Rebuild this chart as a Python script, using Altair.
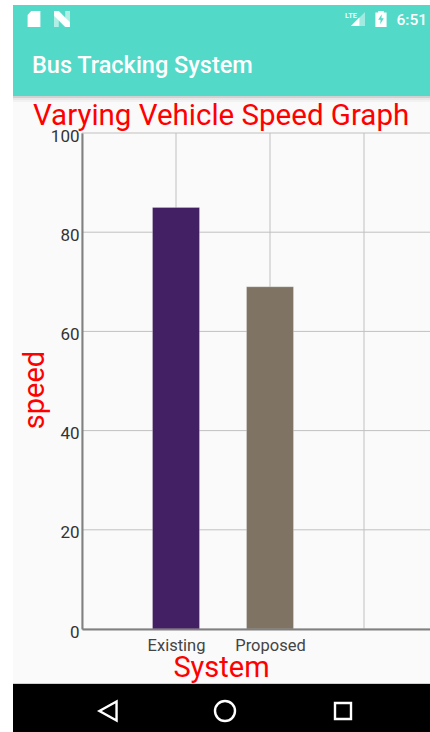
import altair as alt
import pandas as pd

# Bars: system name, position on the category axis, speed and fill colour
systems = ["Existing", "Proposed"]
positions = [1, 2]
speeds = [85, 69]
bar_colors = ["#431f63", "#7f7463"]

y_ticks = [0, 20, 40, 60, 80, 100]
x_ticks = [0, 1, 2, 3]

PLOT_W, PLOT_H = 348, 496
LEFT, TOP = 82, 133
STEP = 94
GRID = "#c0c0c0"
RED = "#ff0000"

bars = pd.DataFrame({"system": systems, "pos": positions, "speed": speeds})
one = pd.DataFrame({"k": [0]})

label_expr = "+".join(
    f"(datum.value == {p} ? '{s}' : '')" for p, s in zip(positions, systems)
)


def rect(x0, y0, x1, y1, color, opacity=1.0):
    """Screen-space rectangle; coordinates are measured from the page corner."""
    return alt.Chart(one).mark_rect(color=color, opacity=opacity).encode(
        x=alt.value(x0 - LEFT), x2=alt.value(x1 - LEFT),
        y=alt.value(y0 - TOP), y2=alt.value(y1 - TOP),
    )


def label(text, x, y, size, weight=400, align="left", color="white", angle=0):
    return alt.Chart(one).mark_text(
        text=text, color=color, font="Roboto", fontSize=size,
        fontWeight=weight, align=align, baseline="alphabetic", angle=angle,
    ).encode(x=alt.value(x - LEFT), y=alt.value(y - TOP))


def icon(path, x, y, size, fill=None, stroke=None, width=2.0, opacity=1.0):
    style = dict(shape=path, size=size, opacity=opacity)
    if fill:
        style.update(filled=True, fill=fill, strokeWidth=0)
    else:
        style.update(filled=False, stroke=stroke, strokeWidth=width)
    return alt.Chart(one).mark_point(**style).encode(
        x=alt.value(x - LEFT), y=alt.value(y - TOP)
    )


SD_CARD = "M-0.35,-1 L0.8,-1 L0.8,1 L-0.8,1 L-0.8,-0.5 Z"
N_MARK = "M-1,-1 L-0.4,-1 L1,0.4 L1,1 L0.4,1 L-1,-0.4 Z"
N_LEFT = "M-1,-1 L-0.4,-0.5 L-0.4,1 L-1,1 Z"
N_RIGHT = "M0.4,-1 L1,-1 L1,1 L0.4,0.5 Z"
SIGNAL_FULL = "M1,-1 L1,1 L-1,1 Z"
SIGNAL_PART = "M0.2,-0.2 L0.2,1 L-1,1 Z"
BATTERY = "M-0.35,-1 L0.35,-1 L0.35,-0.8 L0.7,-0.8 L0.7,1 L-0.7,1 L-0.7,-0.8 L-0.35,-0.8 Z"
BOLT = "M0.1,-0.6 L-0.35,0.1 L-0.05,0.1 L-0.1,0.65 L0.35,-0.1 L0.05,-0.1 Z"
BACK = "M0.9,-1 L0.9,1 L-0.9,0 Z"
HOME = "M1,0 A1,1 0 1 1 -1,0 A1,1 0 1 1 1,0 Z"
RECENT = "M-1,-1 L1,-1 L1,1 L-1,1 Z"

TEAL = "#52d9c8"

# Device frame drawn behind the chart
frame = [
    rect(13, 5, 430, 684, "#fafafa"),
    rect(13, 96, 430, 98, "#000000", 0.16),
    rect(13, 98, 430, 100, "#000000", 0.07),
    rect(13, 100, 430, 102, "#000000", 0.03),
    rect(13, 5, 430, 96, TEAL),
    rect(13, 683, 430, 684, "#d0d0d0"),
    rect(13, 684, 430, 732, "#000000"),
    label("Bus Tracking System", 32, 73, 23.5, 500),
    label("6:51", 427, 25, 15.5, 500, "right"),
    icon(SD_CARD, 34, 19, 256, fill="white"),
    icon(N_LEFT, 62, 19, 256, fill="white", opacity=0.55),
    icon(N_RIGHT, 62, 19, 256, fill="white", opacity=0.55),
    icon(N_MARK, 62, 19, 256, fill="white"),
    icon(SIGNAL_FULL, 358, 19, 196, fill="white", opacity=0.45),
    icon(SIGNAL_PART, 358, 19, 196, fill="white"),
    label("LTE", 345, 18, 7.5, 500),
    icon(BATTERY, 381, 19, 256, fill="white"),
    icon(BOLT, 381, 19, 256, fill=TEAL),
    icon(BACK, 108, 711, 361, stroke="white", width=2.4),
    icon(HOME, 225, 711, 400, stroke="white", width=2.4),
    icon(RECENT, 343, 711, 256, stroke="white", width=2.4),
]

x_scale = alt.Scale(domain=[0, PLOT_W / STEP], nice=False, zero=False, padding=0)
y_scale = alt.Scale(domain=[0, 100], nice=False)

x_axis = alt.Axis(
    values=x_ticks,
    labelExpr=label_expr,
    title=None,
    labelFont="Roboto",
    labelFontSize=16.5,
    labelColor="#444444",
    labelPadding=8,
    labelFlush=False,
    labelOverlap=False,
    grid=False,
    ticks=False,
    domainColor="#808080",
    domainWidth=2,
    zindex=1,
)
y_axis = alt.Axis(
    values=y_ticks,
    title=None,
    labelFont="Roboto",
    labelFontSize=17,
    labelColor="#333333",
    labelPadding=3,
    labelOffset=3,
    grid=False,
    ticks=False,
    domainColor="#808080",
    domainWidth=2,
    zindex=1,
)

# Grid lines sit above the frame but under the bars
x_grid = alt.Chart(pd.DataFrame({"pos": x_ticks})).mark_rule(color=GRID, strokeWidth=1).encode(
    x=alt.X("pos:Q", scale=x_scale, axis=x_axis)
)
y_grid = alt.Chart(pd.DataFrame({"speed": y_ticks})).mark_rule(color=GRID, strokeWidth=1).encode(
    y=alt.Y("speed:Q", scale=y_scale, axis=y_axis)
)

bar_layer = alt.Chart(bars).mark_bar(
    size=47, orient="vertical", stroke="#ffffff", strokeOpacity=0.25, strokeWidth=1
).encode(
    x=alt.X("pos:Q", scale=x_scale, axis=x_axis),
    y=alt.Y("speed:Q", scale=y_scale, stack=None, axis=y_axis),
    color=alt.Color(
        "system:N",
        scale=alt.Scale(domain=systems, range=bar_colors),
        legend=None,
    ),
)

# Chart and axis titles, placed directly on the frame
titles = [
    label("Varying Vehicle Speed Graph", 33, 125, 29.5, color=RED),
    label("System", 221.5, 677, 29, align="center", color=RED),
    label("speed", 44, 390, 29, align="center", color=RED, angle=270),
]

chart = alt.layer(*frame, x_grid, y_grid, bar_layer, *titles).properties(
    width=PLOT_W,
    height=PLOT_H,
    padding={"left": LEFT, "top": TOP, "right": 0, "bottom": 732 - TOP - PLOT_H},
    autosize=alt.AutoSizeParams(type="none"),
    background="white",
).configure_view(stroke=None)

chart.save("out.html", embed_options={"renderer": "svg", "actions": False})
